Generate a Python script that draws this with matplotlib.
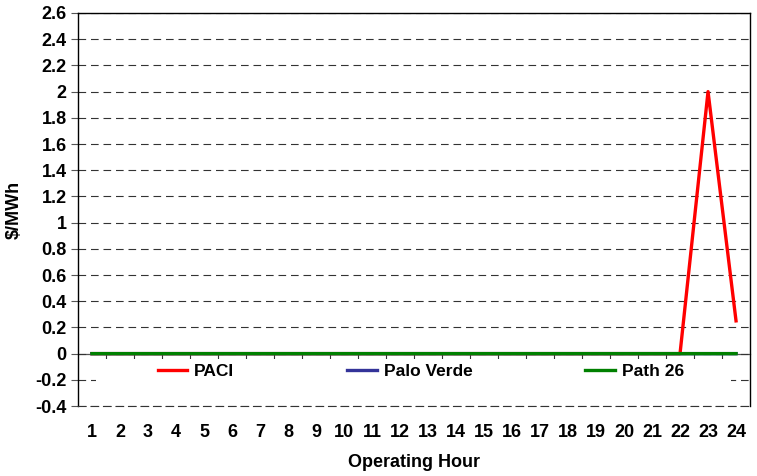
import matplotlib.pyplot as plt
from matplotlib.patches import Rectangle
import numpy as np

plt.rcParams['font.family'] = ['Liberation Sans', 'DejaVu Sans']
plt.rcParams['font.weight'] = 'bold'
plt.rcParams['lines.scale_dashes'] = False

# Дані по годинах
hours = list(range(1, 25))
paci = [0, 0, 0, 0, 0, 0, 0, 0, 0, 0, 0, 0, 0, 0, 0, 0, 0, 0, 0, 0, 0, 0, 2.0, 0.25]
palo_verde = [0] * 24
path_26 = [0] * 24

y_ticks = np.round(np.arange(-0.4, 2.61, 0.2), 1)
y_labels = ['%g' % v for v in y_ticks]

fig = plt.figure(figsize=(7.57, 4.76), dpi=100)
ax = fig.add_axes([0.103, 0.147, 0.8878, 0.8257])

# друга вісь - лише для лінії категорій на нулі
ax2 = ax.twiny()
ax.set_zorder(2)
ax2.set_zorder(1)
ax.patch.set_visible(False)

ax.plot(hours, paci, color='#ff0000', lw=2.4, label='PACI', zorder=4, snap=False)
ax.plot(hours, palo_verde, color='#333399', lw=2.4, label='Palo Verde', zorder=4, snap=False)
ax.plot(hours, path_26, color='#008000', lw=2.4, label='Path 26', zorder=4, snap=False)

ax.set_xlim(0.5, 24.5)
ax.set_ylim(-0.4, 2.6)
ax.set_yticks(y_ticks)
ax.set_yticklabels(y_labels)
ax.set_xticks(hours)
ax.set_xticklabels([str(h) for h in hours])

ax.yaxis.grid(True, color='#333333', linestyle=(0, (5.5, 3.5)), lw=0.8)
ax.set_axisbelow(True)

ax.spines['bottom'].set_linestyle((0, (5.5, 3.5)))
ax.spines['bottom'].set_color('#333333')
ax.spines['bottom'].set_linewidth(0.8)
for s in ['left', 'right', 'top']:
    ax.spines[s].set_linewidth(1.0)
    ax.spines[s].set_color('black')

ax.tick_params(axis='y', direction='out', length=5, width=0.8, color='#555555',
               labelsize=13, pad=3)
ax.tick_params(axis='x', length=0, labelsize=13, pad=13)

ax2.set_xlim(0.5, 24.5)
ax2.xaxis.set_ticks_position('bottom')
ax2.spines['bottom'].set_position(('data', 0))
for s in ['left', 'right', 'top']:
    ax2.spines[s].set_visible(False)
ax2.spines['bottom'].set_color('#555555')
ax2.spines['bottom'].set_linewidth(0.9)
ax2.set_xticks(np.arange(1.5, 24, 1))
ax2.set_xticklabels([])
ax2.tick_params(axis='x', direction='out', length=5, width=0.8, color='#333333')

# білий фон під легендою
ax.add_patch(Rectangle((0.027, 0.045), 0.945, 0.075, transform=ax.transAxes,
                       facecolor='white', edgecolor='none', zorder=2))

leg = ax.legend(loc='center', bbox_to_anchor=(0.51, 0.088), ncol=3,
                frameon=False, fontsize=12.5, columnspacing=6.5,
                handlelength=1.7, handletextpad=0.4)
leg.set_zorder(5)

ax.set_xlabel('Operating Hour', fontsize=13, fontweight='bold', labelpad=9)
ax.set_ylabel('\\$/MWh', fontsize=13, fontweight='bold', labelpad=9)

fig.savefig('out.png', dpi=100)
